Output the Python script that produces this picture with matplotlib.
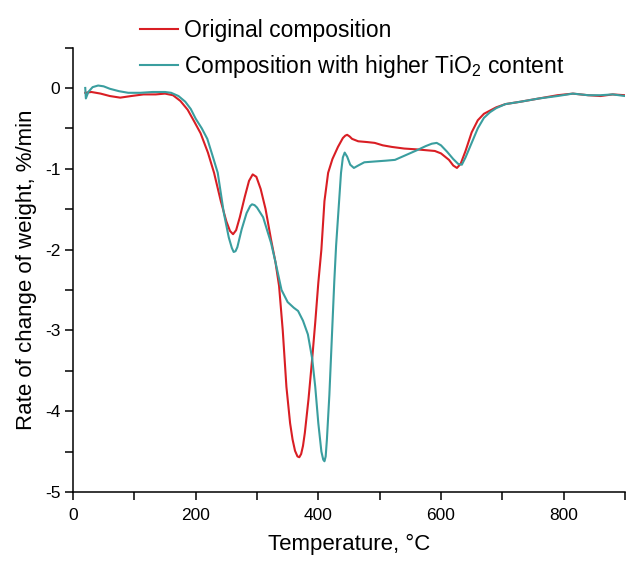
import matplotlib
matplotlib.use("Agg")
import matplotlib.pyplot as plt
from matplotlib.ticker import MultipleLocator

plt.rcParams['font.family'] = ['Liberation Sans', 'DejaVu Sans']
plt.rcParams['mathtext.fontset'] = 'custom'
plt.rcParams['mathtext.rm'] = 'Liberation Sans'
plt.rcParams['mathtext.it'] = 'Liberation Sans'

# Data (Temperature, °C ; rate, %/min)
orig_T = [20, 30, 45, 60, 77, 95, 115, 135, 150, 163, 175, 187, 198, 208, 220, 230, 241, 250, 256, 261,
          266, 272, 280, 287, 293, 299, 306, 314, 323, 330, 336, 342, 348, 354, 358, 362, 366, 369, 372,
          375, 378, 384, 390, 395, 400, 405, 410, 416, 423, 432, 440, 444, 447, 451, 455, 465, 480, 492,
          505, 520, 540, 560, 575, 590, 600, 613, 620, 626, 632, 640, 650, 660, 670, 680, 690, 705, 730,
          760, 790, 815, 840, 860, 880, 900]
orig_R = [-0.06, -0.05, -0.07, -0.10, -0.12, -0.10, -0.08, -0.08, -0.07, -0.09, -0.16, -0.27, -0.42,
          -0.56, -0.80, -1.05, -1.40, -1.65, -1.77, -1.81, -1.76, -1.60, -1.35, -1.15, -1.07, -1.10,
          -1.25, -1.50, -1.88, -2.15, -2.45, -3.00, -3.70, -4.15, -4.35, -4.49, -4.56, -4.57, -4.53,
          -4.43, -4.27, -3.85, -3.35, -2.90, -2.41, -2.00, -1.40, -1.05, -0.88, -0.73, -0.62, -0.59,
          -0.58, -0.60, -0.63, -0.66, -0.67, -0.68, -0.71, -0.73, -0.75, -0.76, -0.77, -0.78, -0.81,
          -0.89, -0.96, -0.99, -0.94, -0.78, -0.55, -0.40, -0.32, -0.28, -0.24, -0.20, -0.17, -0.13,
          -0.09, -0.07, -0.09, -0.10, -0.08, -0.09]

tio2_T = [20, 21, 25, 32, 41, 50, 60, 75, 90, 110, 130, 150, 160, 172, 183, 192, 200, 210, 219, 228,
          236, 246, 254, 259, 262, 265, 268, 275, 283, 289, 292, 296, 300, 310, 323, 330, 340, 350, 360,
          367, 375, 383, 390, 395, 400, 405, 408, 410, 412, 414, 418, 422, 426, 429, 433, 437, 440, 443,
          447, 452, 458, 465, 475, 492, 510, 525, 540, 561, 575, 585, 593, 600, 610, 620, 628, 634, 640,
          650, 660, 670, 680, 690, 705, 730, 760, 790, 815, 840, 860, 880, 900]
tio2_R = [0.0, -0.13, -0.05, 0.01, 0.03, 0.02, -0.01, -0.04, -0.06, -0.06, -0.05, -0.05, -0.06, -0.10,
          -0.17, -0.26, -0.38, -0.50, -0.63, -0.85, -1.05, -1.55, -1.85, -1.98, -2.03, -2.02, -1.97,
          -1.75, -1.55, -1.46, -1.44, -1.45, -1.48, -1.60, -1.92, -2.15, -2.50, -2.65, -2.72, -2.76,
          -2.88, -3.05, -3.35, -3.70, -4.15, -4.50, -4.60, -4.62, -4.56, -4.35, -3.80, -3.10, -2.40,
          -1.95, -1.50, -1.05, -0.86, -0.80, -0.85, -0.95, -0.99, -0.96, -0.92, -0.91, -0.90, -0.89,
          -0.84, -0.77, -0.72, -0.69, -0.68, -0.71, -0.79, -0.88, -0.94, -0.95, -0.86, -0.68, -0.50,
          -0.37, -0.30, -0.25, -0.20, -0.17, -0.13, -0.10, -0.07, -0.09, -0.09, -0.08, -0.10]

labels = ["Original composition", "Composition with higher TiO$_2$ content"]
colors = ["#d91e24", "#3a9e9f"]

fig = plt.figure(figsize=(6.27, 5.64), dpi=100)
ax = fig.add_axes([0.1164, 0.1277, 0.8804, 0.788])

l1, = ax.plot(orig_T, orig_R, color=colors[0], lw=1.5, label=labels[0])
l2, = ax.plot(tio2_T, tio2_R, color=colors[1], lw=1.5, label=labels[1])

ax.set_xlim(0, 900)
ax.set_ylim(-5, 0.5)
ax.xaxis.set_major_locator(MultipleLocator(200))
ax.xaxis.set_minor_locator(MultipleLocator(100))
ax.yaxis.set_minor_locator(MultipleLocator(0.5))
ax.set_yticks([0, -1, -2, -3, -4, -5])
ax.set_yticklabels(["0", "-1", "-2", "-3", "-4", "-5"])

for s in ['top', 'right']:
    ax.spines[s].set_visible(False)
for s in ['left', 'bottom']:
    ax.spines[s].set_linewidth(1.1)
ax.tick_params(which='both', direction='out', length=5.5, width=1.1, labelsize=12.5)
ax.tick_params(axis='x', pad=6)

ax.set_xlabel("Temperature, °C", fontsize=16, labelpad=8)
ax.set_ylabel("Rate of change of weight, %/min", fontsize=16, labelpad=6)

fig.legend(handles=[l1, l2], loc='upper left', bbox_to_anchor=(0.198, 0.995),
           frameon=False, fontsize=16.5, handlelength=1.65, handletextpad=0.25,
           labelspacing=0.5, borderpad=0.2)

fig.savefig("out.png", dpi=100)
